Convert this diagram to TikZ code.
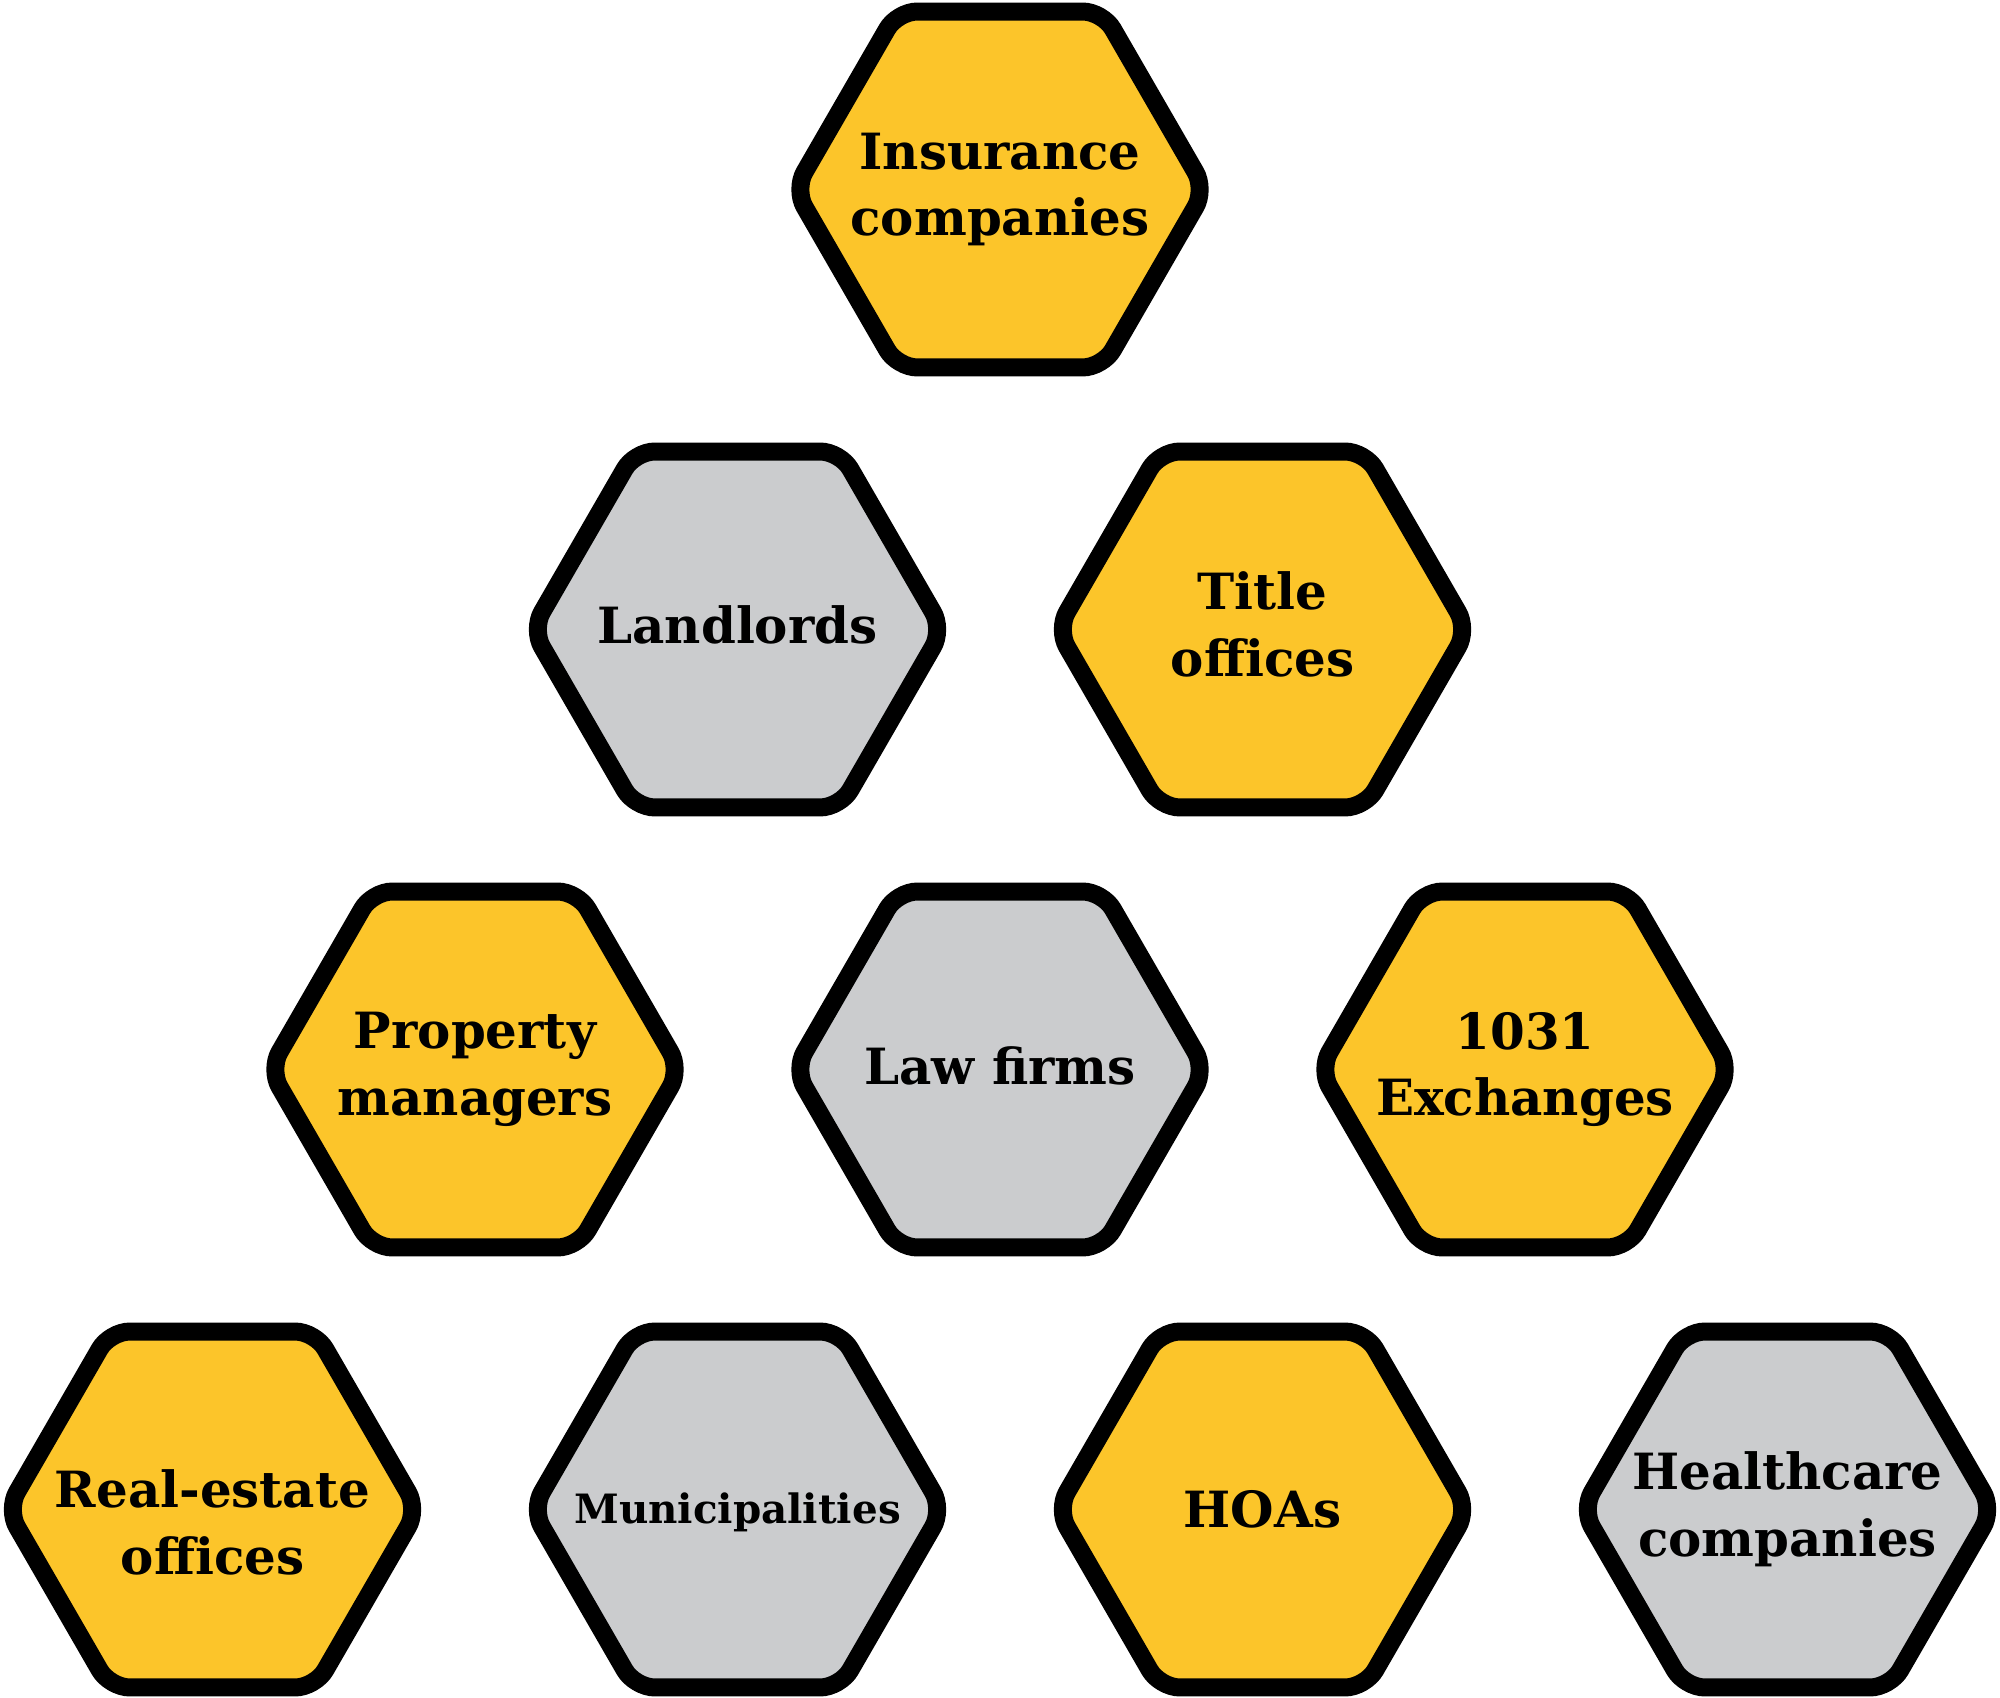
\documentclass[tikz,border=0pt]{standalone}
\usepackage{fontspec}
\setmainfont{DejaVu Serif}
\usepackage{tikz}
\usetikzlibrary{shapes.geometric}
\definecolor{hexyellow}{HTML}{FCC52A}
\definecolor{hexgray}{HTML}{CBCCCE}

\begin{document}
\begin{tikzpicture}[
  hex/.style={regular polygon,regular polygon sides=6,minimum size=4.11cm,inner sep=0pt,outer sep=0pt,draw=black,line width=0.18cm,rounded corners=0.2cm},
  txt/.style={align=center,inner sep=0pt,font=\bfseries\fontsize{14.2}{19}\selectfont},
  yel/.style={hex,fill=hexyellow},
  gry/.style={hex,fill=hexgray}]
\useasboundingbox (0,0) rectangle (20,-16.98);
% top row
\node[yel,label={[txt]center:Insurance\\companies}] (ins) at (10,-1.895) {};
% second row
\node[gry,label={[txt,yshift=0.05cm]center:Landlords}] (land) at (7.375,-6.295) {};
\node[yel,label={[txt,yshift=0.05cm]center:Title\\offices}] (title) at (12.625,-6.295) {};
% third row
\node[yel,label={[txt]center:Property\\managers}] (prop) at (4.75,-10.695) {};
\node[gry,label={[txt,yshift=0.04cm]center:Law firms}] (law) at (10,-10.695) {};
\node[yel,label={[txt]center:1031\\Exchanges}] (exch) at (15.25,-10.695) {};
% bottom row
\node[yel,label={[txt,yshift=-0.13cm]center:Real-estate\\offices}] (real) at (2.125,-15.095) {};
\node[gry,label={[txt,yshift=-0.03cm,font=\bfseries\fontsize{11.5}{15}\selectfont]center:Municipalities}] (muni) at (7.375,-15.095) {};
\node[yel,label={[txt]center:HOAs}] (hoa) at (12.625,-15.095) {};
\node[gry,label={[txt]center:Healthcare\\companies}] (health) at (17.875,-15.095) {};
\end{tikzpicture}
\end{document}
